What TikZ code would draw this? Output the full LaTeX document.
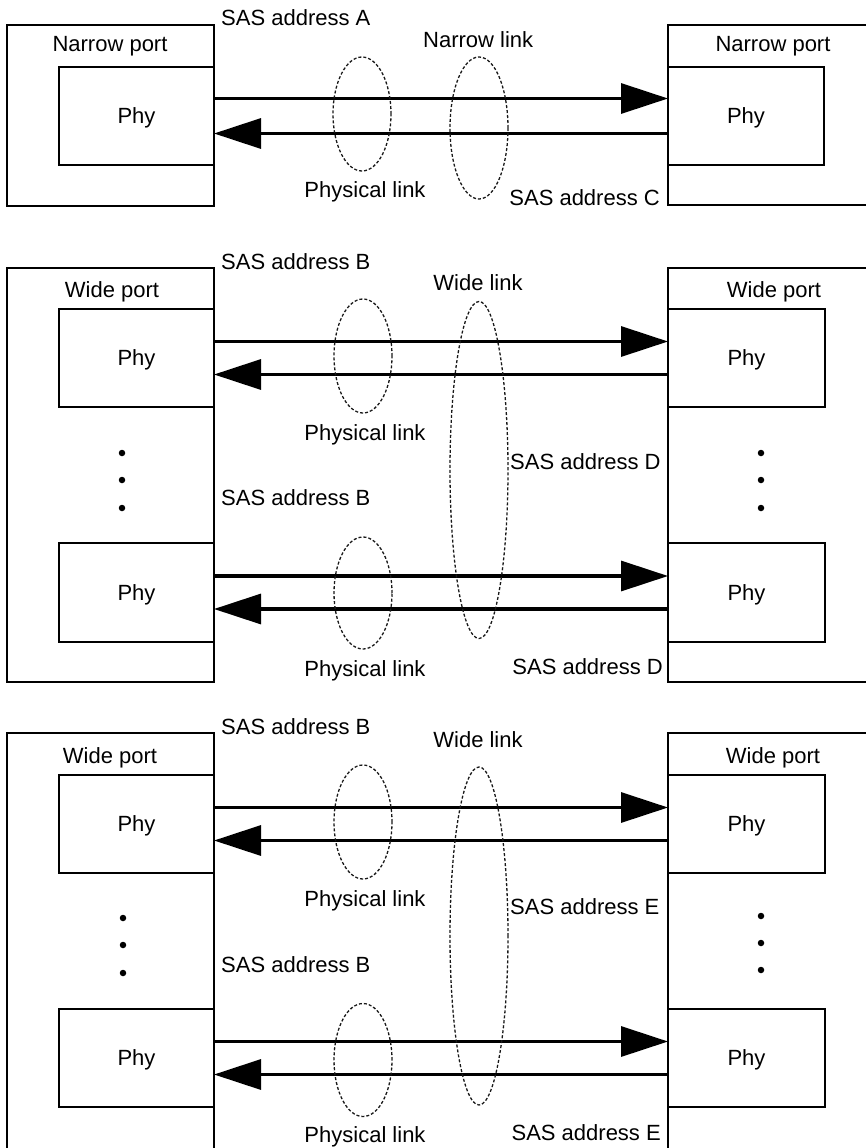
\documentclass[tikz,border=0pt]{standalone}
\usepackage{fontspec}
\setmainfont{Liberation Sans}
\usetikzlibrary{arrows.meta,shapes.geometric}
\begin{document}
\begin{tikzpicture}[x=1pt,y=-1pt,
  portbox/.style={draw=black, line width=1.3pt, inner sep=0pt, outer sep=0pt, anchor=north west},
  phybox/.style={draw=black, line width=1.3pt, inner sep=0pt, outer sep=0pt, anchor=north west,
    minimum width=155pt, minimum height=98pt, font=\fontsize{22}{25}\selectfont,
    text height=15pt, text depth=0pt},
  lbl/.style={font=\fontsize{22}{25}\selectfont, inner sep=0pt, text height=15pt, text depth=0pt},
  link/.style={line width=3.2pt, -{Triangle[length=47pt,width=30pt]}},
  linkring/.style={ellipse, draw=black!90, line width=1.3pt, dash pattern=on 3pt off 2pt,
    inner sep=0pt, minimum width=58pt},
  dot/.style={circle, fill=black, inner sep=0pt, minimum size=6.5pt}
]
\clip (0,0) rectangle (866,1148);

% ---------- narrow port to narrow port ----------
\node[portbox, minimum width=207pt, minimum height=181pt] (nA) at (7,25) {};
\node[phybox] (nA1) at (59,67) {Phy};
\node[portbox, minimum width=211pt, minimum height=180pt] (nC) at (668,25) {};
\node[phybox, minimum width=156pt] (nC1) at (668,67) {Phy};
\node[lbl] (nAt) at (110,44) {Narrow port};
\node[lbl] (nCt) at (773,44) {Narrow port};

\draw[link] ([yshift=17.5pt]nA1.east) -- ([yshift=17.5pt]nC1.west);
\draw[link] ([yshift=-17.5pt]nC1.west) -- ([yshift=-17.5pt]nA1.east);

\node[linkring, minimum height=114pt] (pl1) at (362,114) {};
\node[linkring, minimum height=142pt] (nl1) at (479,128) {};

\node[lbl, anchor=west] (sasA) at (221,18) {SAS address A};
\node[lbl, anchor=west] (nlt) at (423,40) {Narrow link};
\node[lbl] (pl1t) at (365,190) {Physical link};
\node[lbl, anchor=east] (sasC) at (660,198) {SAS address C};

% ---------- wide port to wide port (address D) ----------
\node[portbox, minimum width=207pt, minimum height=414pt] (wB) at (7,268) {};
\node[phybox] (wB1) at (59,309) {Phy};
\node[phybox, minimum height=99pt] (wB2) at (59,543) {Phy};
\node[portbox, minimum width=211pt, minimum height=414pt] (wD) at (668,268) {};
\node[phybox, minimum width=157pt] (wD1) at (668,309) {Phy};
\node[phybox, minimum width=157pt, minimum height=99pt] (wD2) at (668,543) {Phy};
\node[lbl] (wBt) at (112,290) {Wide port};
\node[lbl] (wDt) at (774,290) {Wide port};

\draw[link] ([yshift=16.5pt]wB1.east) -- ([yshift=16.5pt]wD1.west);
\draw[link] ([yshift=-16.5pt]wD1.west) -- ([yshift=-16.5pt]wB1.east);
\draw[link] ([yshift=16.5pt]wB2.east) -- ([yshift=16.5pt]wD2.west);
\draw[link] ([yshift=-16.5pt]wD2.west) -- ([yshift=-16.5pt]wB2.east);

\node[dot] (dB1) at (122,453) {};
\node[dot] (dB2) at (122,480) {};
\node[dot] (dB3) at (122,508) {};
\node[dot] (dD1) at (761,453) {};
\node[dot] (dD2) at (761,480) {};
\node[dot] (dD3) at (761,508) {};

\node[linkring, minimum height=114pt] (pl2) at (363,356) {};
\node[linkring, minimum height=112pt] (pl3) at (363,593) {};
\node[linkring, minimum height=337pt] (wl1) at (479,470) {};

\node[lbl, anchor=west] (sasB1) at (221,262) {SAS address B};
\node[lbl] (wl1t) at (478,283) {Wide link};
\node[lbl] (pl2t) at (365,433) {Physical link};
\node[lbl, anchor=west] (sasD1) at (510,462) {SAS address D};
\node[lbl, anchor=west] (sasB2) at (221,498) {SAS address B};
\node[lbl] (pl3t) at (365,669) {Physical link};
\node[lbl, anchor=east] (sasD2) at (663,667) {SAS address D};

% ---------- wide port to wide port (address E) ----------
\node[portbox, minimum width=207pt, minimum height=416pt] (xB) at (7,733) {};
\node[phybox] (xB1) at (59,775) {Phy};
\node[phybox] (xB2) at (59,1009) {Phy};
\node[portbox, minimum width=211pt, minimum height=416pt] (xE) at (668,733) {};
\node[phybox, minimum width=157pt] (xE1) at (668,775) {Phy};
\node[phybox, minimum width=157pt] (xE2) at (668,1009) {Phy};
\node[lbl] (xBt) at (110,756) {Wide port};
\node[lbl] (xEt) at (773,756) {Wide port};

\draw[link] ([yshift=16.5pt]xB1.east) -- ([yshift=16.5pt]xE1.west);
\draw[link] ([yshift=-16.5pt]xE1.west) -- ([yshift=-16.5pt]xB1.east);
\draw[link] ([yshift=16.5pt]xB2.east) -- ([yshift=16.5pt]xE2.west);
\draw[link] ([yshift=-16.5pt]xE2.west) -- ([yshift=-16.5pt]xB2.east);

\node[dot] (dX1) at (123,918) {};
\node[dot] (dX2) at (123,945) {};
\node[dot] (dX3) at (123,973) {};
\node[dot] (dE1) at (761,916) {};
\node[dot] (dE2) at (761,943) {};
\node[dot] (dE3) at (761,970) {};

\node[linkring, minimum height=114pt] (pl4) at (363,822) {};
\node[linkring, minimum height=113pt] (pl5) at (363,1060) {};
\node[linkring, minimum height=338pt] (wl2) at (479,936) {};

\node[lbl, anchor=west] (sasB3) at (221,727) {SAS address B};
\node[lbl] (wl2t) at (478,740) {Wide link};
\node[lbl] (pl4t) at (365,899) {Physical link};
\node[lbl, anchor=west] (sasE1) at (510,907) {SAS address E};
\node[lbl, anchor=west] (sasB4) at (221,965) {SAS address B};
\node[lbl] (pl5t) at (365,1135) {Physical link};
\node[lbl, anchor=east] (sasE2) at (661,1133) {SAS address E};
\end{tikzpicture}
\end{document}
